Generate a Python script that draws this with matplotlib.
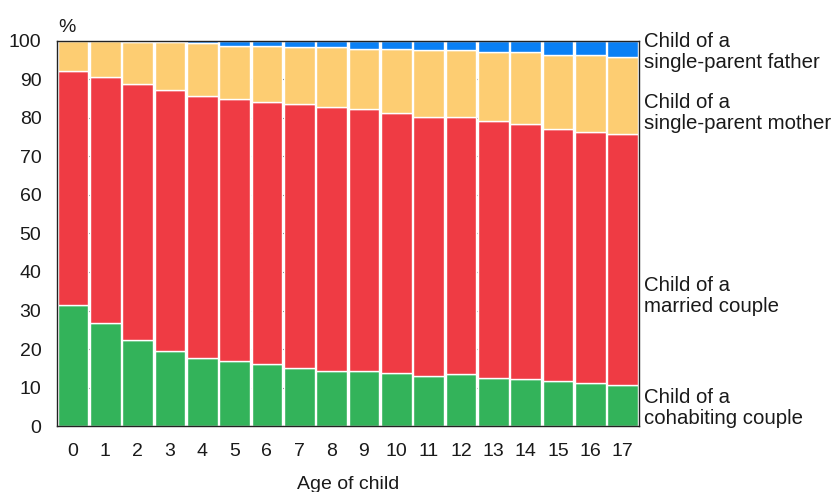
import numpy as np
import matplotlib
matplotlib.use("Agg")
import matplotlib.pyplot as plt

# values (percent)
ages = list(range(18))
cohabiting = [31.5, 26.7, 22.3, 19.5, 17.7, 16.9, 16.1, 15.2, 14.4, 14.4,
              13.9, 13.1, 13.4, 12.6, 12.2, 11.8, 11.3, 10.6]
married = [60.7, 63.8, 66.5, 67.7, 68.1, 68.1, 68.1, 68.3, 68.5, 67.8,
           67.3, 67.0, 66.7, 66.6, 66.2, 65.3, 65.0, 65.2]
single_mother = [7.8, 9.5, 10.8, 12.4, 13.7, 13.7, 14.5, 14.8, 15.4, 15.6,
                 16.6, 17.4, 17.4, 17.9, 18.7, 19.1, 19.9, 20.0]
single_father = [0.0, 0.0, 0.4, 0.4, 0.5, 1.3, 1.3, 1.7, 1.7, 2.2,
                 2.2, 2.5, 2.5, 2.9, 2.9, 3.8, 3.8, 4.2]

series = [cohabiting, married, single_mother, single_father]
colors = ["#33b35a", "#ef3b44", "#fdcd72", "#0a80f5"]
labels = ["Child of a\ncohabiting couple", "Child of a\nmarried couple",
          "Child of a\nsingle-parent mother", "Child of a\nsingle-parent father"]

plt.rcParams["font.family"] = ["Liberation Sans", "DejaVu Sans"]
fs = 14

fig = plt.figure(figsize=(8.34, 4.92), dpi=100)
ax = fig.add_axes([0.068, 0.134, 0.698, 0.783])

x = np.arange(len(ages))
bottom = np.zeros(len(ages))
for vals, col in zip(series, colors):
    ax.bar(x, vals, bottom=bottom, width=0.95, color=col,
           edgecolor="white", linewidth=1.0, zorder=2)
    bottom += np.array(vals)

# labels on the right, next to the last bar
label_y = [4.7, 33.8, 81.3, 97.1]
for lab, yy in zip(labels, label_y):
    ax.annotate(lab, xy=(1.009, yy), xycoords=("axes fraction", "data"),
                ha="left", va="center", fontsize=14.7, color="#1a1a1a",
                linespacing=1.1, annotation_clip=False)

ax.set_xlim(-0.5, 17.5)
ax.set_ylim(0, 100)
ax.set_xticks(x)
ax.set_xticklabels([str(a) for a in ages])
ax.set_yticks(range(0, 101, 10))
ax.tick_params(axis="both", length=0, labelsize=fs, colors="#1a1a1a")
ax.tick_params(axis="x", pad=12)
ax.tick_params(axis="y", pad=11)
ax.yaxis.grid(True, linestyle=(0, (1, 6)), color="#555555", linewidth=0.8, zorder=0)
ax.set_axisbelow(True)
for sp in ax.spines.values():
    sp.set_color("#222222")
    sp.set_linewidth(1.0)

ax.set_xlabel("Age of child", fontsize=fs, color="#1a1a1a", labelpad=12)
ax.text(-0.5 + 0.05, 101.3, "%", fontsize=fs, color="#1a1a1a", ha="left", va="bottom")

fig.savefig("out.png", dpi=100)
